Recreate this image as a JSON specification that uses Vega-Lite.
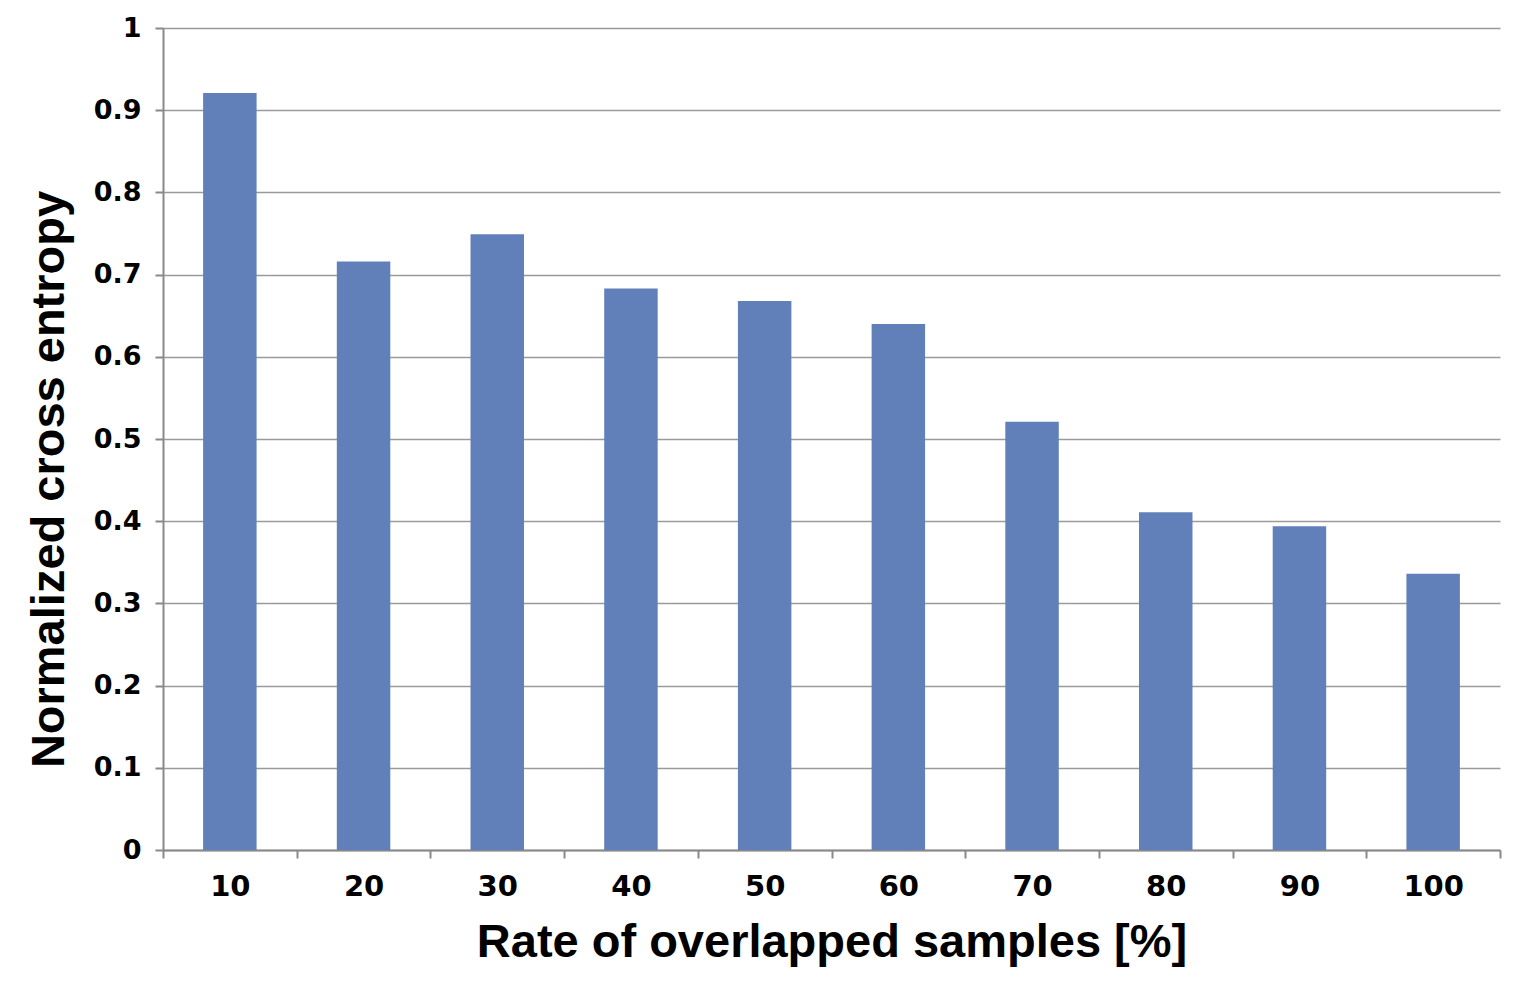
{
  "$schema": "https://vega.github.io/schema/vega-lite/v6.json",
  "width": 1337,
  "height": 822,
  "autosize": {"type": "none"},
  "padding": {"left": 163, "top": 28, "right": 29, "bottom": 147},
  "background": "white",
  "config": {
    "font": "Liberation Sans",
    "view": {"stroke": null}
  },
  "data": {
    "values": [
      {"rate": "10", "entropy": 0.921},
      {"rate": "20", "entropy": 0.716},
      {"rate": "30", "entropy": 0.749},
      {"rate": "40", "entropy": 0.683},
      {"rate": "50", "entropy": 0.668},
      {"rate": "60", "entropy": 0.640},
      {"rate": "70", "entropy": 0.521},
      {"rate": "80", "entropy": 0.411},
      {"rate": "90", "entropy": 0.394},
      {"rate": "100", "entropy": 0.336}
    ]
  },
  "mark": {"type": "bar", "color": "#6180b9", "width": {"band": 0.4}},
  "encoding": {
    "x": {
      "field": "rate",
      "type": "ordinal",
      "sort": null,
      "scale": {"paddingInner": 0, "paddingOuter": 0},
      "axis": {
        "title": "Rate of overlapped samples [%]",
        "titleFont": "Liberation Sans",
        "titleFontSize": 47,
        "titleFontWeight": "bold",
        "titleColor": "black",
        "titlePadding": 18,
        "labelAngle": 0,
        "labelFont": "DejaVu Sans",
        "labelFontSize": 29,
        "labelFontWeight": "bold",
        "labelColor": "black",
        "labelPadding": 14,
        "tickBand": "extent",
        "tickSize": 8,
        "tickColor": "#898989",
        "tickWidth": 2,
        "domainColor": "#898989",
        "domainWidth": 2
      }
    },
    "y": {
      "field": "entropy",
      "type": "quantitative",
      "scale": {"domain": [0, 1]},
      "axis": {
        "title": "Normalized cross entropy",
        "titleFont": "Liberation Sans",
        "titleFontSize": 47,
        "titleFontWeight": "bold",
        "titleColor": "black",
        "titlePadding": 20,
        "titleY": 451,
        "values": [0, 0.1, 0.2, 0.3, 0.4, 0.5, 0.6, 0.7, 0.8, 0.9, 1],
        "format": "~g",
        "labelFont": "DejaVu Sans",
        "labelFontSize": 27,
        "labelFontWeight": "bold",
        "labelColor": "black",
        "labelPadding": 14,
        "tickSize": 8,
        "tickColor": "#898989",
        "tickWidth": 2,
        "domainColor": "#898989",
        "domainWidth": 2,
        "grid": true,
        "gridColor": "#9a9a9a",
        "gridWidth": 1.5
      }
    }
  }
}
